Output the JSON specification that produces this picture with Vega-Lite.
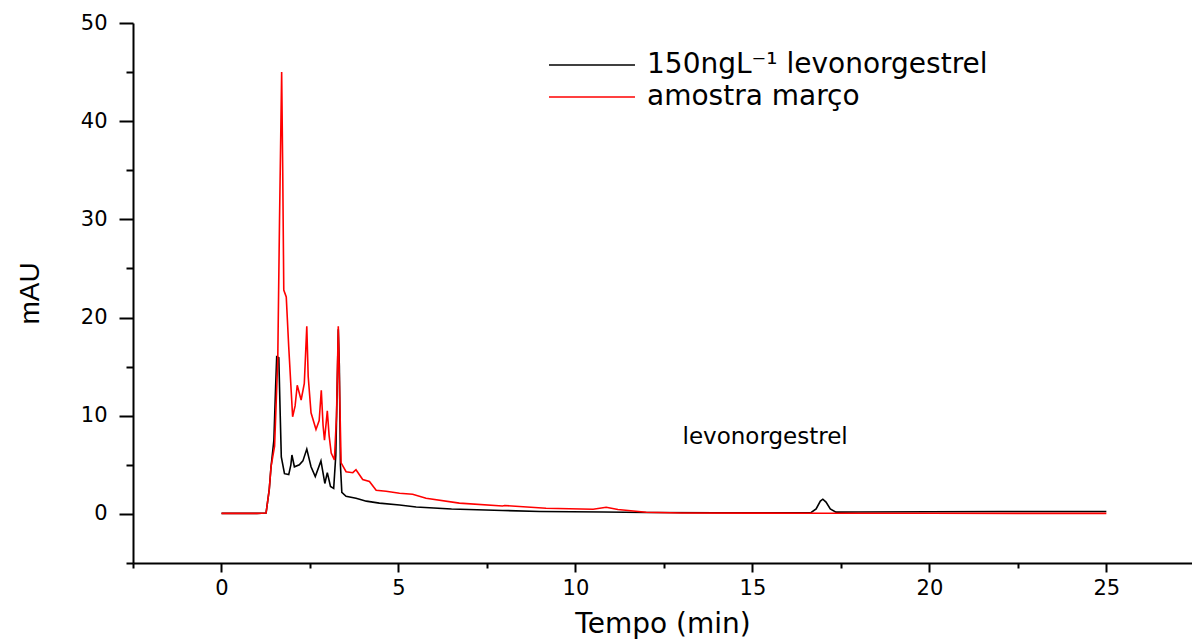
{
  "$schema": "https://vega.github.io/schema/vega-lite/v6.json",
  "width": 1059,
  "height": 540,
  "autosize": {"type": "none"},
  "padding": {"left": 133, "top": 23, "right": 0, "bottom": 76},
  "background": "white",
  "config": {
    "view": {"stroke": null},
    "font": "DejaVu Sans",
    "axis": {
      "domainColor": "black", "domainWidth": 2, "tickColor": "black", "tickWidth": 2,
      "labelFont": "DejaVu Sans", "labelFontSize": 21, "labelColor": "black",
      "titleFont": "DejaVu Sans", "titleFontSize": 28, "titleFontWeight": "normal", "titleColor": "black",
      "grid": false
    }
  },
  "datasets": {
    "traces": [
      {"s": "150ngL⁻¹ levonorgestrel", "t": 0, "v": 0.05},
      {"s": "150ngL⁻¹ levonorgestrel", "t": 1.0, "v": 0.05},
      {"s": "150ngL⁻¹ levonorgestrel", "t": 1.26, "v": 0.1},
      {"s": "150ngL⁻¹ levonorgestrel", "t": 1.35, "v": 2.5},
      {"s": "150ngL⁻¹ levonorgestrel", "t": 1.40, "v": 4.8},
      {"s": "150ngL⁻¹ levonorgestrel", "t": 1.48, "v": 7.5},
      {"s": "150ngL⁻¹ levonorgestrel", "t": 1.53, "v": 13},
      {"s": "150ngL⁻¹ levonorgestrel", "t": 1.56, "v": 16.0},
      {"s": "150ngL⁻¹ levonorgestrel", "t": 1.62, "v": 15.9},
      {"s": "150ngL⁻¹ levonorgestrel", "t": 1.66, "v": 10},
      {"s": "150ngL⁻¹ levonorgestrel", "t": 1.69, "v": 5.8},
      {"s": "150ngL⁻¹ levonorgestrel", "t": 1.78, "v": 4.1},
      {"s": "150ngL⁻¹ levonorgestrel", "t": 1.90, "v": 4.0},
      {"s": "150ngL⁻¹ levonorgestrel", "t": 1.96, "v": 5.0},
      {"s": "150ngL⁻¹ levonorgestrel", "t": 1.99, "v": 6.0},
      {"s": "150ngL⁻¹ levonorgestrel", "t": 2.06, "v": 4.8},
      {"s": "150ngL⁻¹ levonorgestrel", "t": 2.20, "v": 5.0},
      {"s": "150ngL⁻¹ levonorgestrel", "t": 2.30, "v": 5.4},
      {"s": "150ngL⁻¹ levonorgestrel", "t": 2.41, "v": 6.6},
      {"s": "150ngL⁻¹ levonorgestrel", "t": 2.53, "v": 4.8},
      {"s": "150ngL⁻¹ levonorgestrel", "t": 2.65, "v": 3.8},
      {"s": "150ngL⁻¹ levonorgestrel", "t": 2.81, "v": 5.4},
      {"s": "150ngL⁻¹ levonorgestrel", "t": 2.92, "v": 3.1},
      {"s": "150ngL⁻¹ levonorgestrel", "t": 2.99, "v": 4.2},
      {"s": "150ngL⁻¹ levonorgestrel", "t": 3.08, "v": 2.8},
      {"s": "150ngL⁻¹ levonorgestrel", "t": 3.17, "v": 2.6},
      {"s": "150ngL⁻¹ levonorgestrel", "t": 3.23, "v": 6},
      {"s": "150ngL⁻¹ levonorgestrel", "t": 3.28, "v": 15},
      {"s": "150ngL⁻¹ levonorgestrel", "t": 3.30, "v": 18.8},
      {"s": "150ngL⁻¹ levonorgestrel", "t": 3.33, "v": 15},
      {"s": "150ngL⁻¹ levonorgestrel", "t": 3.36, "v": 5},
      {"s": "150ngL⁻¹ levonorgestrel", "t": 3.40, "v": 2.2},
      {"s": "150ngL⁻¹ levonorgestrel", "t": 3.52, "v": 1.8},
      {"s": "150ngL⁻¹ levonorgestrel", "t": 3.80, "v": 1.6},
      {"s": "150ngL⁻¹ levonorgestrel", "t": 3.90, "v": 1.5},
      {"s": "150ngL⁻¹ levonorgestrel", "t": 4.09, "v": 1.3},
      {"s": "150ngL⁻¹ levonorgestrel", "t": 4.46, "v": 1.1},
      {"s": "150ngL⁻¹ levonorgestrel", "t": 5.03, "v": 0.9},
      {"s": "150ngL⁻¹ levonorgestrel", "t": 5.5, "v": 0.7},
      {"s": "150ngL⁻¹ levonorgestrel", "t": 6.5, "v": 0.5},
      {"s": "150ngL⁻¹ levonorgestrel", "t": 7.94, "v": 0.35},
      {"s": "150ngL⁻¹ levonorgestrel", "t": 9, "v": 0.25},
      {"s": "150ngL⁻¹ levonorgestrel", "t": 10.8, "v": 0.2},
      {"s": "150ngL⁻¹ levonorgestrel", "t": 12, "v": 0.15},
      {"s": "150ngL⁻¹ levonorgestrel", "t": 14, "v": 0.12},
      {"s": "150ngL⁻¹ levonorgestrel", "t": 16, "v": 0.12},
      {"s": "150ngL⁻¹ levonorgestrel", "t": 16.66, "v": 0.15},
      {"s": "150ngL⁻¹ levonorgestrel", "t": 16.8, "v": 0.5},
      {"s": "150ngL⁻¹ levonorgestrel", "t": 16.92, "v": 1.3},
      {"s": "150ngL⁻¹ levonorgestrel", "t": 16.99, "v": 1.5},
      {"s": "150ngL⁻¹ levonorgestrel", "t": 17.08, "v": 1.2},
      {"s": "150ngL⁻¹ levonorgestrel", "t": 17.2, "v": 0.5},
      {"s": "150ngL⁻¹ levonorgestrel", "t": 17.36, "v": 0.18},
      {"s": "150ngL⁻¹ levonorgestrel", "t": 18, "v": 0.2},
      {"s": "150ngL⁻¹ levonorgestrel", "t": 20, "v": 0.22},
      {"s": "150ngL⁻¹ levonorgestrel", "t": 22, "v": 0.25},
      {"s": "150ngL⁻¹ levonorgestrel", "t": 25, "v": 0.25},
      {"s": "amostra março", "t": 0, "v": 0.05},
      {"s": "amostra março", "t": 1.0, "v": 0.05},
      {"s": "amostra março", "t": 1.26, "v": 0.1},
      {"s": "amostra março", "t": 1.35, "v": 2.5},
      {"s": "amostra março", "t": 1.40, "v": 4.8},
      {"s": "amostra março", "t": 1.50, "v": 6.9},
      {"s": "amostra março", "t": 1.59, "v": 15.7},
      {"s": "amostra março", "t": 1.64, "v": 30},
      {"s": "amostra março", "t": 1.70, "v": 45.0},
      {"s": "amostra março", "t": 1.73, "v": 35},
      {"s": "amostra março", "t": 1.76, "v": 22.8},
      {"s": "amostra março", "t": 1.83, "v": 22.1},
      {"s": "amostra março", "t": 1.90, "v": 17.0},
      {"s": "amostra março", "t": 2.01, "v": 9.9},
      {"s": "amostra março", "t": 2.08, "v": 11},
      {"s": "amostra março", "t": 2.14, "v": 13.1},
      {"s": "amostra março", "t": 2.25, "v": 11.6},
      {"s": "amostra março", "t": 2.34, "v": 13.3},
      {"s": "amostra março", "t": 2.41, "v": 19.1},
      {"s": "amostra março", "t": 2.45, "v": 14},
      {"s": "amostra março", "t": 2.53, "v": 10.3},
      {"s": "amostra março", "t": 2.67, "v": 8.6},
      {"s": "amostra março", "t": 2.76, "v": 9.5},
      {"s": "amostra março", "t": 2.82, "v": 12.6},
      {"s": "amostra março", "t": 2.87, "v": 9},
      {"s": "amostra março", "t": 2.91, "v": 7.5},
      {"s": "amostra março", "t": 2.99, "v": 10.5},
      {"s": "amostra março", "t": 3.04, "v": 8},
      {"s": "amostra março", "t": 3.10, "v": 6.2},
      {"s": "amostra março", "t": 3.19, "v": 5.5},
      {"s": "amostra março", "t": 3.25, "v": 10},
      {"s": "amostra março", "t": 3.30, "v": 19.1},
      {"s": "amostra março", "t": 3.34, "v": 12},
      {"s": "amostra março", "t": 3.38, "v": 5.2},
      {"s": "amostra março", "t": 3.52, "v": 4.3},
      {"s": "amostra março", "t": 3.71, "v": 4.2},
      {"s": "amostra março", "t": 3.80, "v": 4.5},
      {"s": "amostra março", "t": 3.99, "v": 3.5},
      {"s": "amostra março", "t": 4.18, "v": 3.3},
      {"s": "amostra março", "t": 4.37, "v": 2.4},
      {"s": "amostra março", "t": 4.65, "v": 2.3},
      {"s": "amostra março", "t": 5.03, "v": 2.1},
      {"s": "amostra março", "t": 5.4, "v": 2.0},
      {"s": "amostra março", "t": 5.78, "v": 1.6},
      {"s": "amostra março", "t": 6.72, "v": 1.1},
      {"s": "amostra março", "t": 7.94, "v": 0.81},
      {"s": "amostra março", "t": 8.0, "v": 0.85},
      {"s": "amostra março", "t": 9.17, "v": 0.58},
      {"s": "amostra março", "t": 10.5, "v": 0.48},
      {"s": "amostra março", "t": 10.87, "v": 0.68},
      {"s": "amostra março", "t": 11.2, "v": 0.45},
      {"s": "amostra março", "t": 12.0, "v": 0.17},
      {"s": "amostra março", "t": 13, "v": 0.1},
      {"s": "amostra março", "t": 15, "v": 0.08},
      {"s": "amostra março", "t": 17, "v": 0.07},
      {"s": "amostra março", "t": 20, "v": 0.06},
      {"s": "amostra março", "t": 25, "v": 0.05}
    ],
    "notes": [
      {"t": 15.36, "v": 7.8, "label": "levonorgestrel"}
    ]
  },
  "layer": [
    {
      "data": {"name": "traces"},
      "mark": {"type": "line", "strokeWidth": 1.6, "interpolate": "linear"},
      "encoding": {
        "x": {
          "field": "t", "type": "quantitative", "title": "Tempo (min)",
          "scale": {"domain": [-2.5, 27.42], "nice": false, "zero": false},
          "axis": {
            "values": [-2.5, 0, 2.5, 5, 7.5, 10, 12.5, 15, 17.5, 20, 22.5, 25, 27.5],
            "labelExpr": "datum.value % 5 === 0 ? datum.label : ''",
            "tickSize": {"condition": {"test": "datum.value % 5 === 0", "value": 9}, "value": 5},
            "labelPadding": 5,
            "titlePadding": 12
          }
        },
        "y": {
          "field": "v", "type": "quantitative", "title": "mAU",
          "scale": {"domain": [-5, 50], "nice": false, "zero": false},
          "axis": {
            "values": [-5, 0, 5, 10, 15, 20, 25, 30, 35, 40, 45, 50],
            "labelExpr": "datum.value % 10 === 0 ? datum.label : ''",
            "tickSize": {"condition": {"test": "datum.value % 10 === 0", "value": 14}, "value": 7},
            "labelPadding": 12,
            "titleFont": "Liberation Sans",
            "titleFontSize": 28,
            "titlePadding": 36
          }
        },
        "color": {
          "field": "s", "type": "nominal",
          "scale": {"domain": ["150ngL⁻¹ levonorgestrel", "amostra março"], "range": ["#000000", "#ff0000"]},
          "legend": {
            "title": null, "orient": "none", "legendX": 445, "legendY": 28,
            "symbolType": "M-4,0H4", "symbolSize": 462, "symbolStrokeWidth": 1.4,
            "labelFont": "DejaVu Sans", "labelFontSize": 28, "labelColor": "black",
            "labelOffset": 41, "rowPadding": 4, "labelLimit": 600
          }
        }
      }
    },
    {
      "data": {"name": "notes"},
      "mark": {"type": "text", "fontSize": 23, "font": "DejaVu Sans", "color": "black", "align": "center", "baseline": "middle"},
      "encoding": {
        "x": {"field": "t", "type": "quantitative"},
        "y": {"field": "v", "type": "quantitative"},
        "text": {"field": "label"}
      }
    }
  ]
}
